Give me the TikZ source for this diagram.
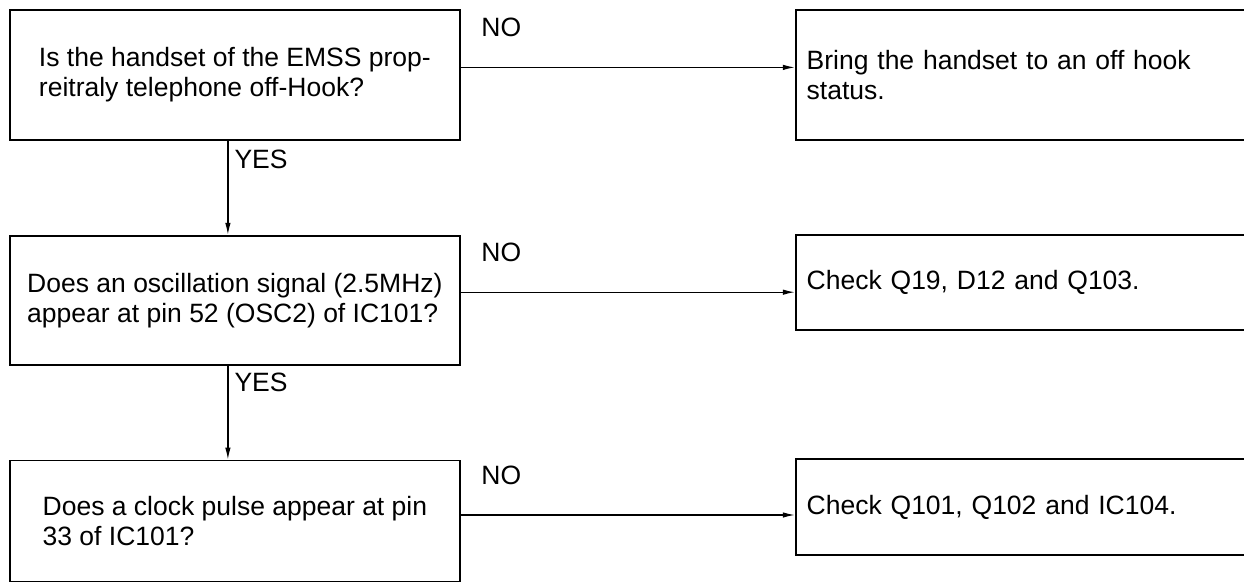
\documentclass[tikz,border=0pt]{standalone}
\usepackage{fontspec}
\setmainfont{Liberation Sans}
\usetikzlibrary{arrows.meta,positioning}
\tikzset{
 qbox/.style={draw,line width=1.8pt,align=left,minimum width=450pt,
             inner sep=0pt,font=\fontsize{26.5}{30}\selectfont},
 abox/.style={draw,line width=1.8pt,align=left,text width=427pt,
             inner xsep=11pt,inner ysep=0pt,font=\fontsize{26.5}{30}\selectfont},
 lbl/.style={inner sep=0pt,font=\fontsize{26.5}{30}\selectfont},
 arrow/.style={-{Latex[length=12pt,width=5.5pt]},line width=1.2pt}
}
\begin{document}
\begin{tikzpicture}[x=1pt,y=-1pt,node distance=94pt]
\useasboundingbox (0,0) rectangle (1244,585);
\node[qbox,minimum height=130pt,anchor=north west] (hook) at (9,9)
  {Is the handset of the EMSS prop-\\reitraly telephone off-Hook?};
\node[qbox,minimum height=129pt,below=of hook] (osc)
  {Does an oscillation signal (2.5MHz)\\appear at pin 52 (OSC2) of IC101?};
\node[qbox,minimum height=121pt,below=94pt of osc] (clk)
  {Does a clock pulse appear at pin\\33 of IC101?};
\node[abox,minimum height=130pt,right=334pt of hook] (offhook)
  {Bring the handset to an off hook\\status.};
\node[abox,minimum height=95pt,right=334pt of osc,yshift=18pt] (chkosc)
  {Check Q19, D12 and Q103.};
\node[abox,minimum height=96pt,right=334pt of clk,yshift=14pt] (chkclk)
  {Check Q101, Q102 and IC104.};
% NO branches
\draw[arrow] ([yshift=7.5pt]hook.east)
  node[lbl,anchor=base west,xshift=20pt,yshift=31pt] (no1) {NO}
  -- ([yshift=7.5pt]hook.east -| offhook.west);
\draw[arrow] ([yshift=8pt]osc.east)
  node[lbl,anchor=base west,xshift=20pt,yshift=31pt] (no2) {NO}
  -- ([yshift=8pt]osc.east -| chkosc.west);
\draw[arrow] ([yshift=6pt]clk.east)
  node[lbl,anchor=base west,xshift=20pt,yshift=31pt] (no3) {NO}
  -- ([yshift=6pt]clk.east -| chkclk.west);
% YES branches
\draw[arrow] ([xshift=-7pt]hook.south)
  node[lbl,anchor=base west,xshift=6pt,yshift=-28pt] (yes1) {YES}
  -- ([xshift=-7pt]osc.north);
\draw[arrow] ([xshift=-7pt]osc.south)
  node[lbl,anchor=base west,xshift=6pt,yshift=-26pt] (yes2) {YES}
  -- ([xshift=-7pt]clk.north);
\end{tikzpicture}
\end{document}
